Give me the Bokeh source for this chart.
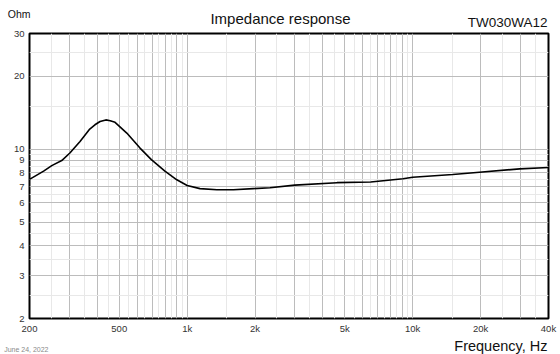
from bokeh.plotting import figure
from bokeh.models import FixedTicker, Grid, Label, Range1d
from bokeh.layouts import column
from bokeh.embed import file_html
from bokeh.resources import INLINE

# ---- data ----
freq = [200, 231, 251, 278, 302, 335, 370, 390, 411, 436, 456, 479, 540, 618, 694, 797,
        900, 1000, 1140, 1355, 1604, 1964, 2329, 3000, 4615, 6510, 9060, 10000, 15050,
        19760, 29800, 40000]
imp = [7.5, 8.11, 8.55, 8.97, 9.64, 10.76, 12.1, 12.6, 13.0, 13.2, 13.1, 12.9, 11.65, 10.1,
       9.05, 8.11, 7.47, 7.08, 6.87, 6.8, 6.8, 6.87, 6.93, 7.1, 7.27, 7.32, 7.55, 7.66,
       7.86, 8.03, 8.29, 8.4]

x_ticks = [200, 500, 1000, 2000, 5000, 10000, 20000, 40000]
x_tick_labels = ["200", "500", "1k", "2k", "5k", "10k", "20k", "40k"]
y_ticks = [2, 3, 4, 5, 6, 7, 8, 9, 10, 20, 30]
y_tick_labels = ["2", "3", "4", "5", "6", "7", "8", "9", "10", "20", "30"]

title = "Impedance response"
model = "TW030WA12"
y_unit = "Ohm"
x_title = "Frequency, Hz"
date = "June 24, 2022"

# grid positions
x_major = [m * d for d in (100, 1000, 10000) for m in range(2, 10)] + [1000, 10000]
x_major = [v for v in x_major if 200 < v < 40000]
x_minor = [(m + 0.5) * d for d in (100, 1000, 10000) for m in range(1, 10)]
x_minor = [v for v in x_minor if 200 < v < 40000]
y_major = [3, 4, 5, 6, 7, 8, 9, 10, 20]
y_minor = [2.5, 3.5, 4.5, 5.5, 6.5, 7.5, 8.5, 9.5, 15, 25]

FONT = "Liberation Sans"
W = 560
L, R = 29, 12
TOP_H, MAIN_H, BOT_H = 29, 307, 18


def strip(height, side_text, side_y, side_size, side_color, side_standoff):
    # pixel-like ranges: x from frame left, y from strip top
    s = figure(width=W, height=height, x_range=Range1d(0, W - L - R),
               y_range=Range1d(height, 0), x_axis_location=None, y_axis_location="left",
               min_border=0, min_border_left=L, min_border_right=R,
               output_backend="svg", toolbar_location=None)
    s.outline_line_color = None
    s.background_fill_color = "white"
    s.border_fill_color = "white"
    s.grid.visible = False
    ax = s.yaxis[0]
    ax.ticker = FixedTicker(ticks=[side_y])
    ax.major_label_overrides = {side_y: side_text}
    ax.axis_line_color = None
    ax.major_tick_line_color = None
    ax.minor_tick_line_color = None
    ax.major_tick_out = 0
    ax.major_tick_in = 0
    ax.minor_tick_out = 0
    ax.major_label_text_font = FONT
    ax.major_label_text_font_size = side_size
    ax.major_label_text_color = side_color
    ax.major_label_standoff = side_standoff
    return s


def add_label(fig, h, txt, cx, cy, size, align="left", color="#111111"):
    # cx, cy: canvas pixel position (cy measured from the strip's top)
    fig.add_layout(Label(x=cx - L, y=h - cy, x_units="screen", y_units="screen",
                         text=txt, text_font=FONT, text_font_size=size, text_color=color,
                         text_align=align, text_baseline="middle"))


top = strip(TOP_H, y_unit, 13, "10.5px", "#111111", -1)
add_label(top, TOP_H, title, 280, 18, "15px", align="center")
add_label(top, TOP_H, model, 547, 22, "13.5px", align="right")

p = figure(width=W, height=MAIN_H, x_axis_type="log", y_axis_type="log",
           x_range=(200, 40000), y_range=(2, 30),
           output_backend="svg", toolbar_location=None,
           min_border_left=L, min_border_right=R, min_border_top=4,
           min_border_bottom=16)
p.background_fill_color = "white"
p.border_fill_color = "white"
p.outline_line_color = "black"
p.outline_line_width = 2
p.xgrid.visible = False
p.ygrid.visible = False

for ticks, color in ((x_minor, "#e8e8e8"), (x_major, "#bcbcbc")):
    p.add_layout(Grid(dimension=0, ticker=FixedTicker(ticks=ticks), grid_line_color=color,
                      grid_line_width=1))
for ticks, color in ((y_minor, "#e8e8e8"), (y_major, "#bcbcbc")):
    p.add_layout(Grid(dimension=1, ticker=FixedTicker(ticks=ticks), grid_line_color=color,
                      grid_line_width=1))

p.xaxis.ticker = FixedTicker(ticks=x_ticks)
p.xaxis.major_label_overrides = {t: l for t, l in zip(x_ticks, x_tick_labels)}
p.yaxis.ticker = FixedTicker(ticks=y_ticks)
p.yaxis.major_label_overrides = {t: l for t, l in zip(y_ticks, y_tick_labels)}
for ax in (p.xaxis, p.yaxis):
    ax.axis_line_color = None
    ax.major_tick_line_color = None
    ax.minor_tick_line_color = None
    ax.major_tick_out = 0
    ax.major_tick_in = 0
    ax.minor_tick_out = 0
    ax.major_label_text_font = FONT
    ax.major_label_text_font_size = "9.5px"
    ax.major_label_text_color = "#333333"
p.xaxis.major_label_standoff = 4
p.yaxis.major_label_standoff = 5

p.line(freq, imp, line_color="black", line_width=1.6)

bot = strip(BOT_H, date, 13, "7px", "#8a8a8a", -19)
add_label(bot, BOT_H, x_title, 547, 9, "14.5px", align="right")

layout = column(top, p, bot, spacing=0)
open("out.html", "w").write(file_html(layout, INLINE))
